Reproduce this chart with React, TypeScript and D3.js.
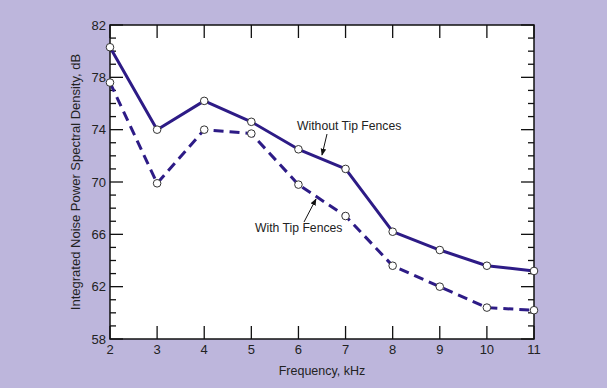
import React from 'react';
import * as d3 from 'd3';

const freqs = [2, 3, 4, 5, 6, 7, 8, 9, 10, 11];
const withoutFences = [80.3, 74.0, 76.2, 74.6, 72.5, 71.0, 66.2, 64.8, 63.6, 63.2];
const withFences = [77.6, 69.9, 74.0, 73.7, 69.8, 67.4, 63.6, 62.0, 60.4, 60.2];
const yTicks = [58, 62, 66, 70, 74, 78, 82];

const W = 607;
const H = 388;
const margin = { top: 25, right: 73, bottom: 49, left: 110 };
const lineColor = '#2d1b86';
const font = 'Liberation Sans, Arial, sans-serif';

const App = () => {
  const x = d3.scaleLinear().domain([2, 11]).range([margin.left, W - margin.right]);
  const y = d3.scaleLinear().domain([58, 82]).range([H - margin.bottom, margin.top]);
  const line = d3.line<number>().x((_, i) => x(freqs[i])).y(d => y(d));

  const minor = d3.range(58, 83, 1);
  const x0 = x(2), x1 = x(11), y0 = y(58), y1 = y(82);

  return (
    <svg width={W} height={H} style={{ position: 'absolute', left: 0, top: 0 }}>
      <rect width={W} height={H} fill="#bdb6dc" />
      <rect x={x0} y={y1} width={x1 - x0} height={y0 - y1} fill="#fff" />

      {/* ticks */}
      <g stroke="#111" strokeWidth={1.3}>
        {minor.map(v => {
          const len = v % 4 === 2 ? 13 : 6;
          return (
            <g key={v}>
              <line x1={x0} x2={x0 + len} y1={y(v)} y2={y(v)} />
              <line x1={x1} x2={x1 - len} y1={y(v)} y2={y(v)} />
            </g>
          );
        })}
        {freqs.map(f => (
          <g key={f}>
            <line x1={x(f)} x2={x(f)} y1={y0} y2={y0 - 13} />
            <line x1={x(f)} x2={x(f)} y1={y1} y2={y1 + 13} />
          </g>
        ))}
      </g>
      <rect x={x0} y={y1} width={x1 - x0} height={y0 - y1} fill="none" stroke="#111" strokeWidth={1.5} />

      {/* tick labels */}
      <g fontFamily={font} fontSize={13} fill="#222">
        {yTicks.map(v => (
          <text key={v} x={x0 - 4} y={y(v)} dy="0.35em" textAnchor="end">{v}</text>
        ))}
        {freqs.map(f => (
          <text key={f} x={x(f)} y={y0 + 15} textAnchor="middle">{f}</text>
        ))}
      </g>

      {/* series */}
      <path d={line(withoutFences) || ''} fill="none" stroke={lineColor} strokeWidth={3} strokeLinejoin="round" />
      <path d={line(withFences) || ''} fill="none" stroke={lineColor} strokeWidth={3} strokeDasharray="10,6" />
      {[withoutFences, withFences].map((s, k) => (
        <g key={k}>
          {s.map((v, i) => (
            <circle key={i} cx={x(freqs[i])} cy={y(v)} r={3.8} fill="#fff" stroke="#333" strokeWidth={1} />
          ))}
        </g>
      ))}

      {/* annotations */}
      <defs>
        <marker id="arr" viewBox="0 0 10 10" refX={9} refY={5} markerWidth={7} markerHeight={7} orient="auto">
          <path d="M0,1 L10,5 L0,9 Z" fill="#111" />
        </marker>
      </defs>
      <g fontFamily={font} fontSize={12.2} fill="#222">
        <text x={297} y={130}>Without Tip Fences</text>
        <text x={255} y={232}>With Tip Fences</text>
      </g>
      <line x1={327} y1={134} x2={322} y2={155} stroke="#111" strokeWidth={1} markerEnd="url(#arr)" />
      <line x1={304} y1={222} x2={316} y2={199} stroke="#111" strokeWidth={1} markerEnd="url(#arr)" />

      {/* axis titles */}
      <text x={(x0 + x1) / 2} y={375} textAnchor="middle" fontFamily={font} fontSize={12.5} fill="#222">
        Frequency, kHz
      </text>
      <text
        transform={`translate(80,182) rotate(-90)`}
        textAnchor="middle"
        fontFamily={font}
        fontSize={13}
        fill="#222"
      >
        Integrated Noise Power Spectral Density, dB
      </text>
    </svg>
  );
};

export default App;
